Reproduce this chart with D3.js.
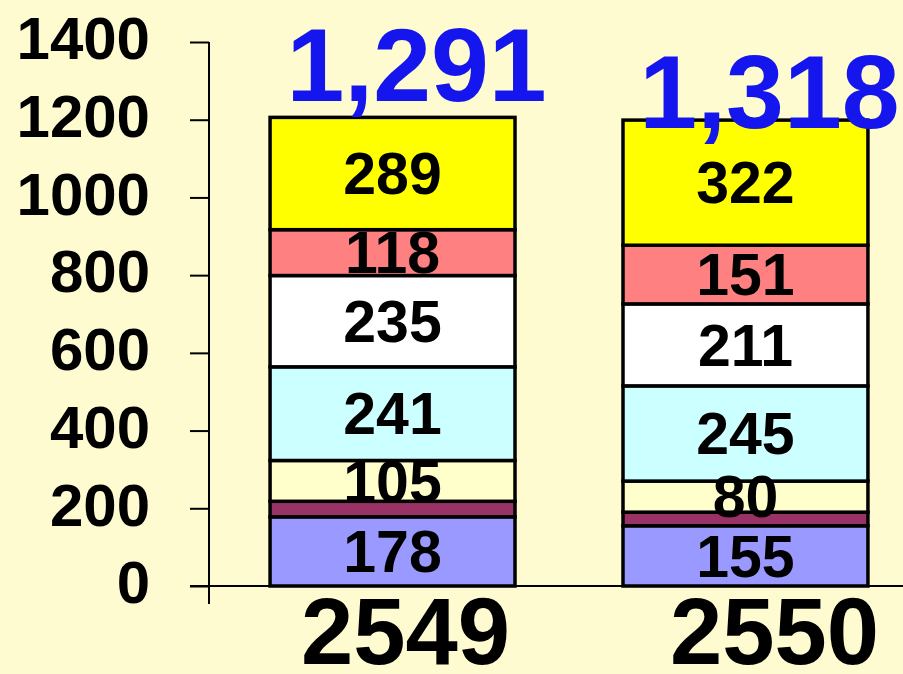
<!DOCTYPE html>
<html>
<head>
<meta charset="utf-8">
<script src="https://cdn.jsdelivr.net/npm/d3@7"></script>
<style>
  body { margin: 0; background: #fefbd0; }
  svg { display: block; font-family: "Liberation Sans", Arial, sans-serif; font-weight: bold; }
</style>
</head>
<body>
<svg id="chart" width="903" height="674"></svg>
<script>
// data (bottom segment first)
const years = ["2549", "2550"]
const totals = [1291, 1318]
const seg1 = [178, 155]   // blue
const seg2 = [40, 35]     // maroon, no label
const seg3 = [105, 80]    // cream
const seg4 = [241, 245]   // light cyan
const seg5 = [235, 211]   // white
const seg6 = [118, 151]   // salmon
const seg7 = [289, 322]   // yellow
const yTicks = [0, 200, 400, 600, 800, 1000, 1200, 1400]

const keys = ["seg1", "seg2", "seg3", "seg4", "seg5", "seg6", "seg7"]
const colors = ["#9999ff", "#993366", "#ffffcc", "#ccffff", "#ffffff", "#ff8080", "#ffff00"]
const rows = years.map((yr, i) => ({
    year: yr, seg1: seg1[i], seg2: seg2[i], seg3: seg3[i], seg4: seg4[i],
    seg5: seg5[i], seg6: seg6[i], seg7: seg7[i]
}))

const svg = d3.select('#chart')

let x = d3.scaleBand().domain(years).range([209, 929]).paddingInner(0.306).paddingOuter(0.173)
let y = d3.scaleLinear().domain([0, 1400]).range([586, 42])

let stacked = d3.stack().keys(keys)(rows)

// y axis
let yAxis = svg.append('g').attr('transform', 'translate(209,0)')
    .call(d3.axisLeft(y).tickValues(yTicks).tickFormat(d3.format('d')).tickSize(19).tickPadding(40))
yAxis.select('.domain').remove()
yAxis.selectAll('line').attr('stroke', '#000').attr('stroke-width', 2)
yAxis.selectAll('text').attr('font-size', 60).attr('font-family', '"Liberation Sans", Arial, sans-serif')
    .attr('font-weight', 'bold').attr('fill', '#000').attr('dy', '0.28em')

svg.append('line').attr('x1', 209).attr('x2', 209).attr('y1', y(1400)).attr('y2', y(0) + 18)
    .attr('stroke', '#000').attr('stroke-width', 2)
svg.append('line').attr('x1', 190).attr('x2', 903).attr('y1', y(0)).attr('y2', y(0))
    .attr('stroke', '#000').attr('stroke-width', 2)

// stacked bars
let layers = svg.append('g').selectAll('g').data(stacked).enter().append('g')
    .attr('fill', (d, i) => colors[i])
layers.selectAll('rect').data(d => d).enter().append('rect')
    .attr('x', d => x(d.data.year))
    .attr('width', x.bandwidth())
    .attr('y', d => y(d[1]))
    .attr('height', d => y(d[0]) - y(d[1]))
    .attr('stroke', '#000').attr('stroke-width', 3.5)

// segment labels
stacked.forEach((layer, li) => {
    if (layer.key === 'seg2') return
    svg.append('g').selectAll('text').data(layer).enter().append('text')
        .attr('x', d => x(d.data.year) + x.bandwidth() / 2)
        .attr('y', d => (y(d[0]) + y(d[1])) / 2)
        .attr('dy', '0.35em')
        .attr('text-anchor', 'middle')
        .attr('font-size', 59)
        .attr('fill', '#000')
        .text(d => d.data[layer.key])
})

// totals above the bars
const totalDy = [-16, 8]
const topLayer = stacked[stacked.length - 1]
svg.append('g').selectAll('text').data(topLayer).enter().append('text')
    .attr('x', d => x(d.data.year) + x.bandwidth() / 2 + 24)
    .attr('y', (d, i) => y(d[1]) + totalDy[i])
    .attr('text-anchor', 'middle')
    .attr('font-size', 104)
    .attr('fill', '#1515ee')
    .text((d, i) => d3.format(',')(totals[i]))

// year labels under the axis
const yearDx = [13, 29]
svg.append('g').selectAll('text').data(years).enter().append('text')
    .attr('x', (d, i) => x(d) + x.bandwidth() / 2 + yearDx[i])
    .attr('y', 664)
    .attr('text-anchor', 'middle')
    .attr('font-size', 94)
    .attr('fill', '#000')
    .text(d => d)
</script>
</body>
</html>
